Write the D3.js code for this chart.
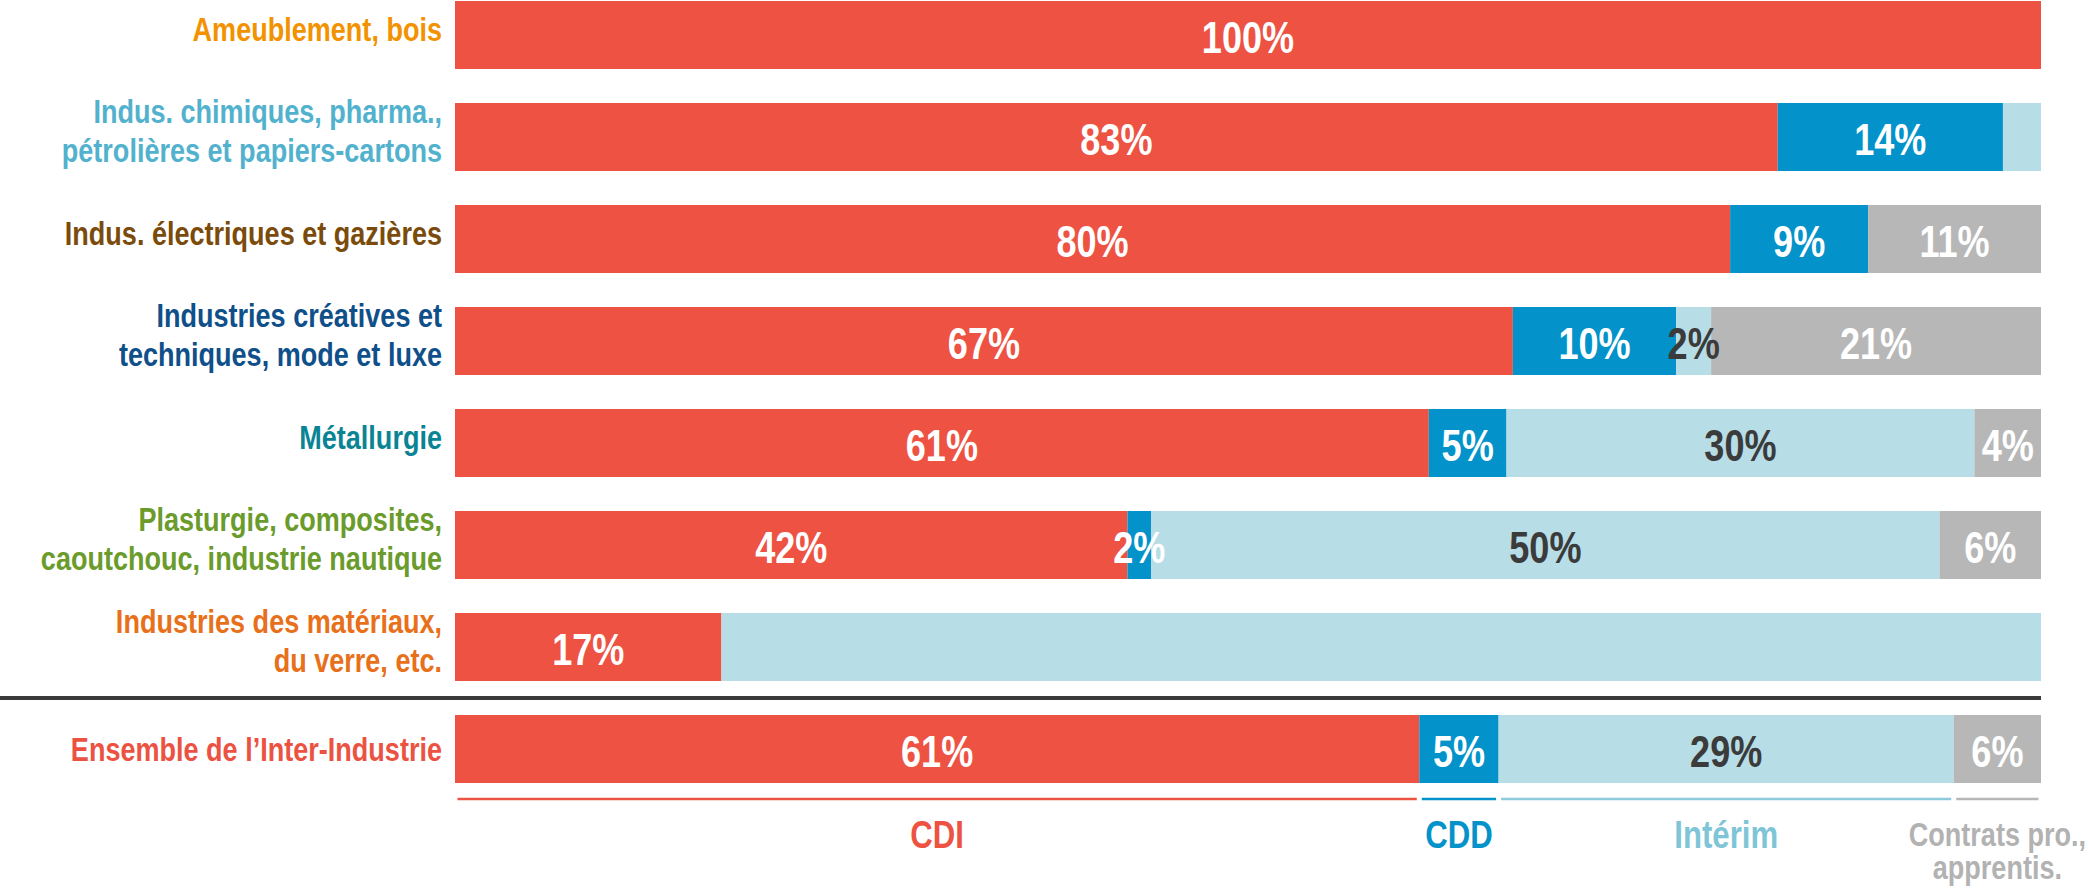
<!DOCTYPE html>
<html>
<head>
<meta charset="utf-8">
<script src="https://cdn.jsdelivr.net/npm/d3@7/dist/d3.min.js"></script>
<style>
  html, body { margin: 0; padding: 0; background: #ffffff; }
  svg { display: block; }
  text { font-family: "Liberation Sans", Arial, Helvetica, sans-serif; font-weight: bold; }
</style>
</head>
<body>
<svg id="chart" width="2089" height="890"></svg>
<script>
// ---------- DATA ----------
const categories = [
  "Ameublement, bois",
  "Indus. chimiques, pharma., pétrolières et papiers-cartons",
  "Indus. électriques et gazières",
  "Industries créatives et techniques, mode et luxe",
  "Métallurgie",
  "Plasturgie, composites, caoutchouc, industrie nautique",
  "Industries des matériaux, du verre, etc.",
  "Ensemble de l’Inter-Industrie"
];
const categoryLines = [
  ["Ameublement, bois"],
  ["Indus. chimiques, pharma.,", "pétrolières et papiers-cartons"],
  ["Indus. électriques et gazières"],
  ["Industries créatives et", "techniques, mode et luxe"],
  ["Métallurgie"],
  ["Plasturgie, composites,", "caoutchouc, industrie nautique"],
  ["Industries des matériaux,", "du verre, etc."],
  ["Ensemble de l’Inter-Industrie"]
];
const categoryColors = ["#f39200", "#52b2ce", "#7a4b0b", "#0f4f8a", "#0a8494", "#6a9b2b", "#e8701a", "#ec5242"];

const seriesNames = ["CDI", "CDD", "Intérim", "Contrats pro., apprentis."];
const legendLines = [["CDI"], ["CDD"], ["Intérim"], ["Contrats pro.,", "apprentis."]];

const cdi      = [100, 83.4, 80.4, 66.7, 61.4, 42.4, 16.8, 60.8];
const cdd      = [0,   14.2,  8.7, 10.3,  4.9,  1.5,  0,    5.0];
const interim  = [0,    2.4,  0,    2.2, 29.5, 49.7, 83.2, 28.7];
const contrats = [0,    0,   10.9, 20.8,  4.2,  6.4,  0,    5.5];

const cdiLabels      = ["100%", "83%", "80%", "67%", "61%", "42%", "17%", "61%"];
const cddLabels      = [null, "14%", "9%", "10%", "5%", "2%", null, "5%"];
const interimLabels  = [null, null, null, "2%", "30%", "50%", null, "29%"];
const contratsLabels = [null, null, "11%", "21%", "4%", "6%", null, "6%"];

// ---------- STYLE ----------
const seriesColors = ["#ed5242", "#0392c9", "#b7dde7", "#b7b7b7"];
const labelColors = ["#ffffff", "#ffffff", "#3b3b3b", "#ffffff"];
const legendLineColors = ["#ed5242", "#0392c9", "#8fcadb", "#b7b7b7"];
const legendTextColors = ["#ed5242", "#0392c9", "#7fc5d8", "#b2b2b2"];
const NARROW = 0.82; // condensed look (Arial Narrow-like)

const seriesValues = [cdi, cdd, interim, contrats];
const seriesLabels = [cdiLabels, cddLabels, interimLabels, contratsLabels];

const rows = categories.map((c, i) => {
  const o = { category: c };
  seriesNames.forEach((s, k) => { o[s] = seriesValues[k][i]; });
  return o;
});
const stacked = d3.stack().keys(seriesNames)(rows);

const svg = d3.select("#chart");
const x = d3.scaleLinear().domain([0, 100]).range([455, 2041]);
const y = d3.scaleBand().domain(categories).range([1, 783]).paddingInner(1 / 3).paddingOuter(0);

// helper: condensed multi-line text anchored at ax
function narrowText(parent, ax, lines, baselines, anchor, size, color) {
  const g = parent.append("g").attr("transform", `translate(${ax},0) scale(${NARROW},1)`);
  const t = g.append("text")
    .attr("text-anchor", anchor)
    .attr("font-size", size)
    .attr("fill", color);
  lines.forEach((ln, j) => {
    t.append("tspan").attr("x", 0).attr("y", baselines[j]).text(ln);
  });
  return t;
}

// Bars
const layers = svg.append("g").selectAll("g").data(stacked).join("g")
  .attr("fill", (d, k) => seriesColors[k]);
layers.selectAll("rect").data(d => d.map(p => ({ p, cat: p.data.category })))
  .join("rect")
  .attr("x", d => x(d.p[0]))
  .attr("y", d => y(d.cat))
  .attr("width", d => Math.max(0, x(d.p[1]) - x(d.p[0])))
  .attr("height", y.bandwidth());

// Value labels
const valG = svg.append("g");
stacked.forEach((layer, k) => {
  layer.forEach((p, i) => {
    const label = seriesLabels[k][i];
    if (!label) return;
    const cx = (x(p[0]) + x(p[1])) / 2;
    const by = y(categories[i]) + y.bandwidth() / 2 + 18;
    narrowText(valG, cx, [label], [by], "middle", 44, labelColors[k]);
  });
});

// Category labels
const lastIdx = categories.length - 1;
const catG = svg.append("g");
categories.forEach((c, i) => {
  const lines = categoryLines[i];
  const cy = y(c) + y.bandwidth() / 2 + (i === lastIdx ? 12 : 6);
  const bls = lines.map((ln, j) => cy + (j - (lines.length - 1) / 2) * 39);
  narrowText(catG, 442, lines, bls, "end", 33, categoryColors[i]);
});

// Separator line between industries and overall
const sepY = (y(categories[lastIdx - 1]) + y.bandwidth() + y(categories[lastIdx])) / 2;
svg.append("line")
  .attr("x1", 0).attr("x2", x(100))
  .attr("y1", sepY).attr("y2", sepY)
  .attr("stroke", "#3a3a3a").attr("stroke-width", 4);

// Legend under the overall bar
const legY = y(categories[lastIdx]) + y.bandwidth() + 16;
const legG = svg.append("g");
stacked.forEach((layer, k) => {
  const p = layer[lastIdx];
  const x0 = x(p[0]), x1 = x(p[1]);
  legG.append("line")
    .attr("x1", x0 + 2.5).attr("x2", x1 - 2.5)
    .attr("y1", legY).attr("y2", legY)
    .attr("stroke", legendLineColors[k]).attr("stroke-width", 2.5);
  const lines = legendLines[k];
  const multi = lines.length > 1;
  const bls = multi ? lines.map((ln, j) => 846 + j * 33) : [848];
  narrowText(legG, (x0 + x1) / 2, lines, bls, "middle", multi ? 33 : 38, legendTextColors[k]);
});
</script>
</body>
</html>
